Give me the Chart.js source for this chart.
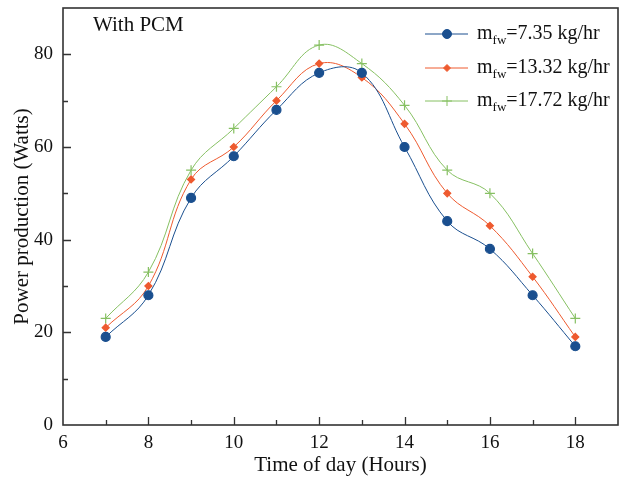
<!DOCTYPE html>
<html><head><meta charset="utf-8">
<script src="https://cdn.jsdelivr.net/npm/chart.js@4"></script>
<style>html,body{margin:0;padding:0;background:#fff}#wrap{width:620px;height:482px}</style>
</head><body><div id="wrap"><canvas id="c" width="620" height="482"></canvas></div>
<script>
const hours = [7, 8, 9, 10, 11, 12, 13, 14, 15, 16, 17, 18];
const flow735 = [19, 28, 49, 58, 68, 76, 76, 60, 44, 38, 28, 17];
const flow1332 = [21, 30, 53, 60, 70, 78, 75, 65, 50, 43, 32, 19];
const flow1772 = [23, 33, 55, 64, 73, 82, 78, 69, 55, 50, 37, 23];
const seriesLabels = ['=7.35 kg/hr', '=13.32 kg/hr', '=17.72 kg/hr'];
const xTickLabels = [6, 8, 10, 12, 14, 16, 18];
const yTickLabels = [0, 20, 40, 60, 80];

const colors = ['#1a4f8f', '#ee5a2f', '#86c062'];
const styles = ['circle', 'rectRot', 'cross'];
const radii = [4.5, 3.5, 5];
const serif = '"Liberation Serif", "DejaVu Serif", serif';

function pts(arr){ return hours.map((h,i)=>({x:h,y:arr[i]})); }
function noPad(s){ s.paddingTop = 0; s.paddingBottom = 0; s.paddingLeft = 0; s.paddingRight = 0; }

const frame = {
  id: 'frame',
  afterDraw(chart){
    const {ctx, chartArea:a, scales:{x,y}} = chart;
    ctx.save();
    ctx.strokeStyle = '#333';
    ctx.lineWidth = 1.6;
    ctx.strokeRect(a.left, a.top, a.right-a.left, a.bottom-a.top);
    ctx.lineWidth = 1.3;
    ctx.beginPath();
    for (let v = 7; v <= 18; v++) {
      const px = Math.round(x.getPixelForValue(v)) + 0.5;
      const len = xTickLabels.includes(v) ? 8 : 5;
      ctx.moveTo(px, a.bottom); ctx.lineTo(px, a.bottom - len);
    }
    for (let v = 10; v <= 80; v += 10) {
      const py = Math.round(y.getPixelForValue(v)) + 0.5;
      const len = yTickLabels.includes(v) ? 8 : 5;
      ctx.moveTo(a.left, py); ctx.lineTo(a.left + len, py);
    }
    ctx.stroke();
    // inner label
    ctx.fillStyle = '#111';
    ctx.font = '21px ' + serif;
    ctx.textBaseline = 'middle';
    ctx.textAlign = 'left';
    ctx.fillText('With PCM', a.left + 30, a.top + 17);
    // legend
    const rows = [34, 68, 101];
    chart.data.datasets.forEach((ds, i) => {
      const yy = rows[i];
      ctx.strokeStyle = colors[i];
      ctx.lineWidth = 1;
      ctx.beginPath(); ctx.moveTo(425, yy); ctx.lineTo(468, yy); ctx.stroke();
      ctx.fillStyle = colors[i];
      ctx.strokeStyle = colors[i];
      ctx.beginPath();
      Chart.helpers.drawPoint(ctx, {pointStyle: styles[i], radius: radii[i], borderWidth: 1.2}, 447, yy);
      ctx.fillStyle = '#111';
      ctx.font = '20px ' + serif;
      ctx.textAlign = 'left';
      ctx.fillText('m', 477, yy);
      const mw = ctx.measureText('m').width;
      ctx.font = '13px ' + serif;
      ctx.fillText('fw', 477 + mw, yy + 7);
      const sw = ctx.measureText('fw').width;
      ctx.font = '20px ' + serif;
      ctx.fillText(seriesLabels[i], 477 + mw + sw, yy);
    });
    ctx.restore();
  }
};

new Chart(document.getElementById('c'), {
  type: 'line',
  data: {
    datasets: [flow735, flow1332, flow1772].map((arr, i) => ({
      label: seriesLabels[i],
      data: pts(arr),
      borderColor: colors[i],
      backgroundColor: colors[i],
      borderWidth: 1,
      pointStyle: styles[i],
      pointRadius: radii[i],
      pointBorderWidth: 1.2,
      tension: 0.4,
      fill: false
    }))
  },
  options: {
    responsive: false,
    animation: false,
    events: [],
    layout: { autoPadding: false, padding: { top: 8, right: 2, left: 0, bottom: 0 } },
    plugins: { legend: { display: false }, tooltip: { enabled: false } },
    scales: {
      x: {
        type: 'linear', min: 6, max: 19,
        afterFit(s){ s.height = 57; noPad(s); },
        grid: { display: false, drawTicks: true, tickLength: 7 },
        border: { display: false },
        ticks: {
          stepSize: 1, autoSkip: false, maxRotation: 0,
          color: '#111', font: { family: serif, size: 19 }, padding: 0,
          callback: v => xTickLabels.includes(v) ? String(v) : ''
        },
        title: { display: true, text: 'Time of day (Hours)', color: '#111',
          font: { family: serif, size: 21 }, padding: { top: 0, bottom: 4 } }
      },
      y: {
        min: 0, max: 90,
        afterFit(s){ s.width = 63; noPad(s); },
        grid: { display: false, drawTicks: true, tickLength: 10 },
        border: { display: false },
        ticks: {
          stepSize: 10, autoSkip: false,
          color: '#111', font: { family: serif, size: 19 }, padding: 0,
          callback: v => yTickLabels.includes(v) ? String(v) : ''
        },
        title: { display: true, text: 'Power production (Watts)', color: '#111',
          font: { family: serif, size: 21 }, padding: { top: 10, bottom: 0 } }
      }
    }
  },
  plugins: [frame]
});
</script></body></html>
